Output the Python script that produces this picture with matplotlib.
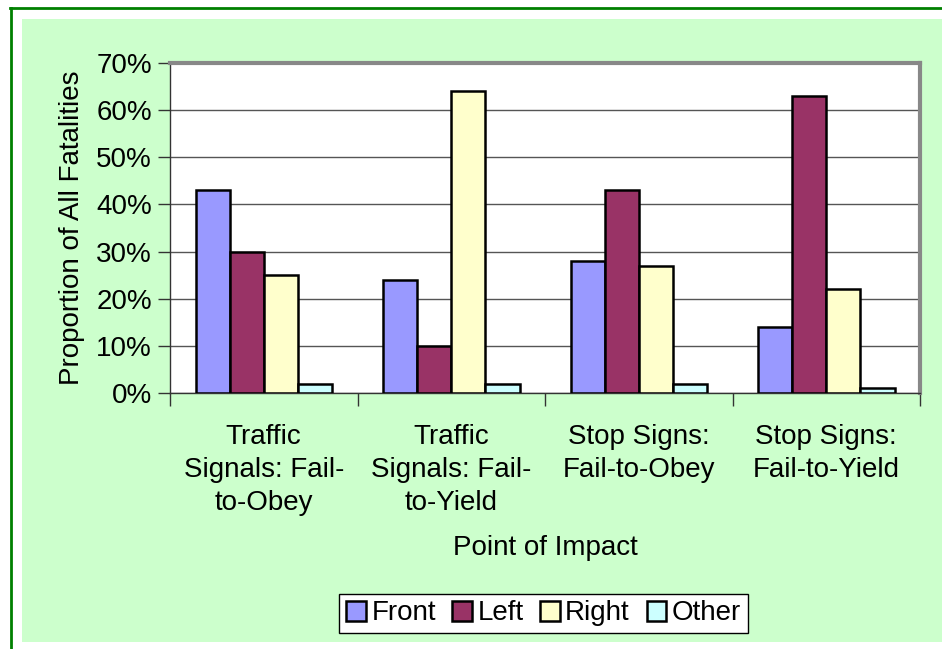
import matplotlib.pyplot as plt
import numpy as np
from matplotlib.patches import Rectangle
from matplotlib.lines import Line2D

plt.rcParams['font.family'] = ['Liberation Sans', 'DejaVu Sans']

categorias = ['Traffic\nSignals: Fail-\nto-Obey', 'Traffic\nSignals: Fail-\nto-Yield',
              'Stop Signs:\nFail-to-Obey', 'Stop Signs:\nFail-to-Yield']
series = ['Front', 'Left', 'Right', 'Other']
front = [43, 24, 28, 14]
left = [30, 10, 43, 63]
right = [25, 64, 27, 22]
other = [2, 2, 2, 1]
cores = ['#9999FF', '#993366', '#FFFFCC', '#CCFFFF']

W, H = 942, 649
fig = plt.figure(figsize=(W / 100, H / 100), dpi=100)
fig.patch.set_facecolor('white')

# fundo verde e bordas
fig.patches.append(Rectangle((22 / W, 7 / H), 1 - 22 / W, (642 - 19) / H,
                             transform=fig.transFigure, facecolor='#CCFFCC',
                             edgecolor='none', zorder=-5))
fig.lines.append(Line2D([10 / W, 1], [1 - 7.5 / H, 1 - 7.5 / H], transform=fig.transFigure,
                        color='#008000', lw=2, zorder=-5))
fig.lines.append(Line2D([10.5 / W, 10.5 / W], [0, 1 - 7.5 / H], transform=fig.transFigure,
                        color='#008000', lw=2, zorder=-5))

ax = fig.add_axes([170 / W, 1 - 393 / H, (920 - 170) / W, (393 - 63) / H])
ax.set_facecolor('white')

x = np.arange(len(categorias))
largura = 0.182
dados = [front, left, right, other]
for i, (nome, vals) in enumerate(zip(series, dados)):
    ax.bar(x + (i - 1.5) * largura, vals, largura, color=cores[i], edgecolor='black',
           linewidth=1.8, label=nome, zorder=3)

fs = 20
ax.set_xlim(-0.5, 3.5)
ax.set_ylim(0, 70)
ax.set_yticks(range(0, 71, 10))
ax.set_yticklabels([f'{v}%' for v in range(0, 71, 10)], fontsize=fs)
ax.yaxis.grid(True, color='#555555', lw=1, zorder=1)
ax.tick_params(axis='y', length=9, width=1, color='#333333', pad=4)

ax.set_xticks(x)
ax.set_xticklabels(categorias, fontsize=fs, linespacing=1.35)
ax.set_xticks(np.arange(-0.5, 4, 1), minor=True)
ax.tick_params(axis='x', which='major', length=0, pad=22)
ax.tick_params(axis='x', which='minor', length=9, width=1, color='#333333')

for s in ['left', 'bottom']:
    ax.spines[s].set_color('#333333')
    ax.spines[s].set_linewidth(1)
for s in ['top', 'right']:
    ax.spines[s].set_color('#888888')
    ax.spines[s].set_linewidth(3)

ax.set_xlabel('Point of Impact', fontsize=fs, labelpad=14)
ax.set_ylabel('Proportion of All Fatalities', fontsize=fs, labelpad=8)

leg = fig.legend(loc='center', bbox_to_anchor=(543.5 / W, 1 - 613.5 / H), ncol=4,
                 fontsize=fs, frameon=True, fancybox=False, framealpha=1,
                 handlelength=0.7, handleheight=0.7, handletextpad=0.2,
                 columnspacing=0.6, borderpad=0.25, borderaxespad=0)
leg.get_frame().set_edgecolor('black')
leg.get_frame().set_facecolor('white')
leg.get_frame().set_linewidth(1)
for h in leg.legend_handles:
    h.set_linewidth(1.8)

fig.savefig('out.png', dpi=100)
